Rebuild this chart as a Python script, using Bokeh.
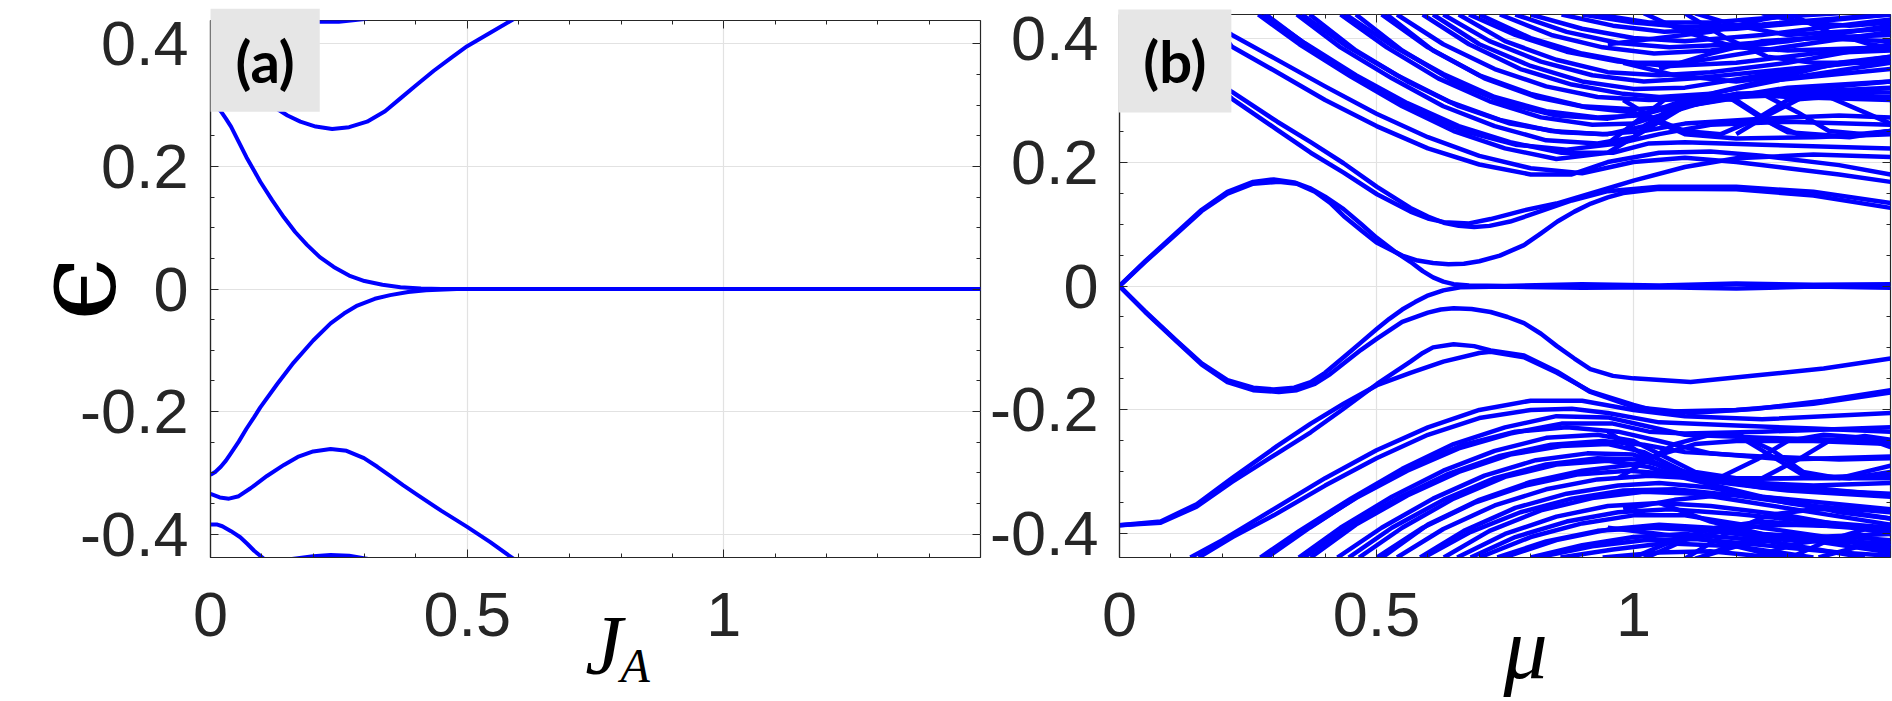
import math
from bokeh.plotting import figure
from bokeh.models import Range1d, FixedTicker, LinearAxis, Label, ColumnDataSource
from bokeh.layouts import row
from bokeh.embed import file_html
from bokeh.resources import INLINE

# ---------------- axes / ticks ----------------
X_RANGE = (0.0, 1.5)
Y_RANGE = (-0.438, 0.438)
X_TICKS = [0.0, 0.5, 1.0]
X_LABELS = ["0", "0.5", "1"]
X_MINOR = [0.1, 0.2, 0.3, 0.4, 0.6, 0.7, 0.8, 0.9, 1.1, 1.2, 1.3, 1.4]
Y_TICKS = [-0.4, -0.2, 0.0, 0.2, 0.4]
Y_LABELS = ["-0.4", "-0.2", "0", "0.2", "0.4"]
Y_MINOR = [-0.35, -0.3, -0.25, -0.15, -0.1, -0.05, 0.05, 0.1, 0.15, 0.25, 0.3, 0.35]

# ---------------- panel (a): energy vs J_A ----------------
a_zero_up = [(0, 0.303), (0.01, 0.299), (0.02, 0.29), (0.03, 0.278), (0.04, 0.265), (0.055, 0.24), (0.07, 0.215),
             (0.085, 0.193), (0.097, 0.175), (0.12, 0.145), (0.143, 0.117), (0.165, 0.093), (0.188, 0.072),
             (0.213, 0.052), (0.24, 0.036), (0.27, 0.022), (0.30, 0.013), (0.335, 0.007), (0.37, 0.003),
             (0.41, 0.001), (0.45, 0.0), (1.5, 0.0)]
a_zero_dn = [(0, -0.303), (0.01, -0.298), (0.02, -0.29), (0.03, -0.28), (0.039, -0.269), (0.055, -0.249),
             (0.07, -0.228), (0.085, -0.209), (0.097, -0.193), (0.13, -0.155), (0.162, -0.12), (0.2, -0.084),
             (0.234, -0.056), (0.26, -0.04), (0.286, -0.027), (0.32, -0.016), (0.35, -0.01), (0.385, -0.005),
             (0.42, -0.002), (0.48, 0.0), (1.5, 0.0)]
a_gap_up = [(0, 0.334), (0.018, 0.34), (0.036, 0.342), (0.055, 0.338), (0.078, 0.326), (0.1, 0.312), (0.12, 0.299),
            (0.15, 0.283), (0.175, 0.273), (0.205, 0.265), (0.237, 0.261), (0.27, 0.264), (0.305, 0.273),
            (0.34, 0.29), (0.37, 0.311), (0.4, 0.332), (0.435, 0.356), (0.47, 0.378), (0.50, 0.396),
            (0.545, 0.418), (0.59, 0.44)]
a_gap_dn = [(0, -0.334), (0.018, -0.34), (0.036, -0.342), (0.055, -0.338), (0.078, -0.325), (0.11, -0.305),
            (0.143, -0.287), (0.17, -0.274), (0.2, -0.265), (0.234, -0.261), (0.265, -0.264), (0.299, -0.276),
            (0.325, -0.29), (0.35, -0.305), (0.375, -0.32), (0.403, -0.336), (0.45, -0.362), (0.50, -0.388),
            (0.545, -0.413), (0.59, -0.44)]
a_top_up = [(0, 0.384), (0.023, 0.387), (0.058, 0.405), (0.104, 0.44)]
a_top_dn = [(0, -0.384), (0.012, -0.384), (0.023, -0.387), (0.04, -0.395), (0.058, -0.405), (0.072, -0.416),
            (0.085, -0.427), (0.104, -0.44)]
a_edge_up = [(0.16, 0.441), (0.2, 0.436), (0.25, 0.436), (0.305, 0.441)]
a_edge_dn = [(0.155, -0.441), (0.2, -0.436), (0.234, -0.434), (0.27, -0.435), (0.31, -0.441)]

# ---------------- panel (b): energy vs mu, upper half ----------------
b_u0 = [(0, 0), (0.05, 0.04), (0.112, 0.087), (0.16, 0.123), (0.21, 0.152), (0.26, 0.168), (0.30, 0.172),
        (0.34, 0.167), (0.37, 0.158), (0.40, 0.144), (0.436, 0.124), (0.47, 0.1), (0.50, 0.078), (0.535, 0.056),
        (0.566, 0.039), (0.59, 0.024), (0.61, 0.014), (0.63, 0.007), (0.65, 0.003), (0.68, 0.001), (0.75, 0.0),
        (0.9, 0.003), (1.05, 0.001), (1.2, 0.004), (1.35, 0.002), (1.5, 0.003)]
b_u1 = [(0, 0), (0.05, 0.039), (0.112, 0.085), (0.16, 0.121), (0.21, 0.149), (0.26, 0.165), (0.31, 0.168),
        (0.345, 0.165), (0.38, 0.152), (0.41, 0.134), (0.436, 0.113), (0.47, 0.09), (0.50, 0.07), (0.55, 0.049),
        (0.58, 0.041), (0.61, 0.037), (0.64, 0.035), (0.67, 0.036), (0.70, 0.04), (0.74, 0.049), (0.787, 0.066),
        (0.82, 0.085), (0.852, 0.104), (0.885, 0.12), (0.917, 0.133), (0.95, 0.143), (0.98, 0.15), (1.05, 0.157),
        (1.2, 0.156), (1.35, 0.146), (1.5, 0.126)]
b_v1 = [(0, 0.386), (0.08, 0.38), (0.15, 0.355), (0.219, 0.313), (0.307, 0.265), (0.372, 0.232), (0.436, 0.198),
        (0.501, 0.16), (0.566, 0.126), (0.6, 0.112), (0.631, 0.102), (0.66, 0.097), (0.69, 0.095), (0.72, 0.097),
        (0.76, 0.104), (0.80, 0.115), (0.88, 0.138), (0.95, 0.153), (1.05, 0.16), (1.2, 0.16), (1.35, 0.152),
        (1.5, 0.134)]
b_v2 = [(0, 0.386), (0.08, 0.378), (0.15, 0.35), (0.219, 0.302), (0.307, 0.252), (0.372, 0.215), (0.436, 0.183),
        (0.501, 0.148), (0.566, 0.12), (0.6, 0.109), (0.631, 0.103), (0.68, 0.101), (0.722, 0.108), (0.787, 0.122),
        (0.85, 0.133), (0.92, 0.15), (1.0, 0.17), (1.1, 0.192), (1.2, 0.206), (1.35, 0.212), (1.5, 0.208)]
b_d1 = [(0.15, 0.44), (0.219, 0.405), (0.3, 0.368), (0.4, 0.322), (0.5, 0.278), (0.6, 0.24), (0.7, 0.21),
        (0.8, 0.19), (0.9, 0.182), (1.0, 0.2), (1.1, 0.207), (1.2, 0.2), (1.3, 0.19), (1.4, 0.18), (1.5, 0.168)]
b_d2 = [(0.17, 0.44), (0.219, 0.386), (0.3, 0.348), (0.4, 0.30), (0.5, 0.258), (0.6, 0.222), (0.7, 0.196),
        (0.8, 0.18), (0.88, 0.18), (0.95, 0.2), (1.05, 0.215), (1.15, 0.217), (1.25, 0.21), (1.4, 0.195), (1.5, 0.18)]
b_d3 = [(0.27, 0.438), (0.35, 0.39), (0.45, 0.338), (0.55, 0.29), (0.65, 0.25), (0.75, 0.222), (0.85, 0.205),
        (0.95, 0.215), (1.0, 0.24), (1.06, 0.28), (1.11, 0.303), (1.18, 0.307), (1.25, 0.27), (1.3, 0.248),
        (1.4, 0.242), (1.5, 0.25)]
b_d3b = [(0.28, 0.438), (0.36, 0.392), (0.46, 0.34), (0.56, 0.295), (0.66, 0.258), (0.76, 0.232), (0.86, 0.215),
         (0.96, 0.215), (1.03, 0.23), (1.1, 0.232), (1.25, 0.228), (1.5, 0.222)]
b_d4 = [(0.285, 0.438), (0.37, 0.385), (0.47, 0.33), (0.57, 0.285), (0.67, 0.25), (0.77, 0.228), (0.87, 0.22),
        (0.97, 0.23), (1.05, 0.245), (1.15, 0.26), (1.3, 0.265), (1.5, 0.26)]
b_d5 = [(0.345, 0.438), (0.43, 0.385), (0.53, 0.335), (0.63, 0.29), (0.73, 0.258), (0.83, 0.235), (0.93, 0.23),
        (1.0, 0.24), (1.05, 0.265), (1.1, 0.29), (1.2, 0.305), (1.35, 0.31), (1.5, 0.305)]
b_d5b = [(0.355, 0.438), (0.44, 0.388), (0.54, 0.34), (0.64, 0.298), (0.74, 0.268), (0.84, 0.25), (0.94, 0.245),
         (1.02, 0.25), (1.1, 0.262), (1.25, 0.27), (1.4, 0.275), (1.5, 0.272)]
b_d6 = [(0.37, 0.438), (0.46, 0.38), (0.56, 0.33), (0.66, 0.29), (0.76, 0.262), (0.86, 0.248), (0.95, 0.245),
        (1.02, 0.258), (1.1, 0.295), (1.2, 0.31), (1.3, 0.305), (1.5, 0.3)]
b_d7 = [(0.43, 0.438), (0.52, 0.385), (0.62, 0.335), (0.72, 0.298), (0.82, 0.272), (0.92, 0.26), (1.0, 0.262),
        (1.05, 0.275), (1.15, 0.3), (1.3, 0.32), (1.5, 0.33)]
b_d7b = [(0.44, 0.438), (0.53, 0.388), (0.63, 0.342), (0.73, 0.305), (0.83, 0.282), (0.93, 0.272), (1.01, 0.275),
         (1.08, 0.29), (1.2, 0.31), (1.35, 0.315), (1.5, 0.312)]
b_d8 = [(0.46, 0.438), (0.55, 0.38), (0.65, 0.33), (0.75, 0.295), (0.85, 0.275), (0.95, 0.27), (1.03, 0.28),
        (1.1, 0.3), (1.25, 0.33), (1.5, 0.35)]
b_d9 = [(0.51, 0.438), (0.6, 0.385), (0.7, 0.34), (0.8, 0.31), (0.9, 0.29), (1.0, 0.285), (1.1, 0.29),
        (1.25, 0.31), (1.5, 0.32)]
b_d9b = [(0.54, 0.438), (0.63, 0.39), (0.73, 0.35), (0.83, 0.322), (0.93, 0.305), (1.03, 0.3), (1.12, 0.302),
         (1.3, 0.315), (1.5, 0.33)]
b_d10 = [(0.52, 0.438), (0.61, 0.38), (0.71, 0.335), (0.81, 0.305), (0.91, 0.288), (1.0, 0.28), (1.06, 0.26),
         (1.1, 0.245), (1.2, 0.238), (1.35, 0.24), (1.5, 0.245)]
b_d11 = [(0.59, 0.438), (0.68, 0.39), (0.78, 0.35), (0.88, 0.325), (0.98, 0.31), (1.05, 0.305), (1.15, 0.31),
         (1.3, 0.335), (1.5, 0.36)]
b_d11b = [(0.63, 0.438), (0.72, 0.395), (0.82, 0.362), (0.92, 0.34), (1.02, 0.33), (1.12, 0.335), (1.3, 0.35),
          (1.5, 0.365)]
b_d12 = [(0.61, 0.438), (0.7, 0.39), (0.8, 0.355), (0.9, 0.33), (1.0, 0.318), (1.1, 0.32), (1.25, 0.34), (1.5, 0.37)]
b_d13 = [(0.66, 0.438), (0.75, 0.395), (0.85, 0.365), (0.95, 0.345), (1.05, 0.34), (1.15, 0.345), (1.3, 0.36),
         (1.5, 0.39)]
b_d13b = [(0.68, 0.438), (0.77, 0.405), (0.87, 0.378), (0.97, 0.362), (1.07, 0.355), (1.2, 0.36), (1.35, 0.375),
          (1.5, 0.38)]
b_d14 = [(0.70, 0.438), (0.8, 0.4), (0.9, 0.375), (1.0, 0.36), (1.1, 0.36), (1.25, 0.38), (1.5, 0.41)]
b_d15 = [(0.74, 0.438), (0.84, 0.405), (0.94, 0.385), (1.04, 0.375), (1.15, 0.38), (1.3, 0.395), (1.5, 0.42)]
b_d15b = [(0.77, 0.438), (0.87, 0.41), (0.97, 0.392), (1.07, 0.385), (1.2, 0.39), (1.35, 0.4), (1.5, 0.405)]
b_d16 = [(0.80, 0.438), (0.9, 0.415), (1.0, 0.4), (1.1, 0.395), (1.25, 0.405), (1.5, 0.43)]
b_d17 = [(0.86, 0.438), (0.96, 0.42), (1.06, 0.41), (1.2, 0.415), (1.5, 0.438)]
b_d17b = [(0.9, 0.438), (1.0, 0.425), (1.1, 0.418), (1.25, 0.422), (1.4, 0.432), (1.5, 0.438)]
b_d18 = [(0.93, 0.438), (1.03, 0.425), (1.15, 0.425), (1.3, 0.435), (1.4, 0.44)]
b_z1 = [(0.95, 0.23), (1.0, 0.262), (1.06, 0.30), (1.12, 0.305), (1.2, 0.30), (1.27, 0.262), (1.32, 0.245),
        (1.42, 0.24), (1.5, 0.25)]
b_z2 = [(0.98, 0.30), (1.04, 0.27), (1.1, 0.25), (1.17, 0.245), (1.24, 0.27), (1.3, 0.30), (1.38, 0.305),
        (1.45, 0.28), (1.5, 0.262)]
b_z3 = [(1.2, 0.245), (1.26, 0.275), (1.33, 0.305), (1.42, 0.31), (1.5, 0.3)]
b_z4 = [(1.25, 0.31), (1.32, 0.28), (1.38, 0.25), (1.45, 0.245), (1.5, 0.25)]
b_x1 = [(1.02, 0.44), (1.1, 0.41), (1.2, 0.385), (1.3, 0.38), (1.5, 0.385)]
b_x2 = [(1.12, 0.44), (1.2, 0.42), (1.3, 0.405), (1.4, 0.41), (1.5, 0.415)]
b_x3 = [(1.25, 0.44), (1.33, 0.425), (1.42, 0.42), (1.5, 0.425)]
b_x4 = [(0.98, 0.36), (1.08, 0.34), (1.2, 0.33), (1.3, 0.34), (1.4, 0.36), (1.5, 0.37)]
b_x5 = [(1.05, 0.35), (1.15, 0.375), (1.25, 0.395), (1.35, 0.4), (1.5, 0.395)]
b_x6 = [(1.1, 0.44), (1.18, 0.4), (1.26, 0.37), (1.35, 0.36), (1.5, 0.36)]
b_x7 = [(1.3, 0.44), (1.38, 0.41), (1.46, 0.39), (1.5, 0.385)]
b_x8 = [(0.95, 0.39), (1.05, 0.4), (1.15, 0.41), (1.25, 0.43), (1.32, 0.44)]

# ---------------- panel (b): lower half ----------------
b_l0 = [(0, 0), (0.05, -0.041), (0.112, -0.089), (0.16, -0.125), (0.21, -0.152), (0.26, -0.164), (0.30, -0.167),
        (0.34, -0.164), (0.372, -0.155), (0.40, -0.14), (0.436, -0.115), (0.47, -0.091), (0.501, -0.069),
        (0.525, -0.053), (0.55, -0.038), (0.575, -0.026), (0.598, -0.016), (0.63, -0.007), (0.663, -0.002),
        (0.75, -0.001), (0.9, -0.003), (1.05, -0.002), (1.2, -0.004), (1.35, -0.001), (1.5, -0.003)]
b_l1 = [(0, 0), (0.05, -0.042), (0.112, -0.09), (0.16, -0.127), (0.21, -0.155), (0.26, -0.168), (0.31, -0.171),
        (0.345, -0.168), (0.38, -0.158), (0.41, -0.142), (0.436, -0.125), (0.47, -0.103), (0.501, -0.085),
        (0.55, -0.058), (0.6, -0.043), (0.625, -0.038), (0.65, -0.036), (0.685, -0.037), (0.722, -0.042),
        (0.755, -0.05), (0.787, -0.06), (0.82, -0.077), (0.851, -0.097), (0.885, -0.117), (0.916, -0.134),
        (0.96, -0.145), (1.0, -0.149), (1.111, -0.155), (1.241, -0.144), (1.37, -0.133), (1.5, -0.117)]
b_la1 = [(0, -0.386), (0.08, -0.382), (0.15, -0.356), (0.219, -0.316), (0.307, -0.27), (0.372, -0.236),
         (0.436, -0.198), (0.501, -0.158), (0.566, -0.122), (0.59, -0.108), (0.61, -0.099), (0.65, -0.094),
         (0.69, -0.097), (0.722, -0.104), (0.787, -0.112), (0.851, -0.138), (0.916, -0.171), (1.0, -0.195),
         (1.111, -0.205), (1.241, -0.198), (1.37, -0.185), (1.5, -0.168)]
b_la2 = [(0, -0.386), (0.08, -0.38), (0.15, -0.352), (0.219, -0.31), (0.307, -0.258), (0.372, -0.222),
         (0.436, -0.19), (0.501, -0.16), (0.566, -0.14), (0.63, -0.122), (0.7, -0.108), (0.722, -0.106),
         (0.787, -0.115), (0.851, -0.14), (0.916, -0.17), (1.0, -0.192), (1.05, -0.203), (1.2, -0.2),
         (1.35, -0.19), (1.5, -0.172)]
b_a1 = [(0.138, -0.438), (0.2, -0.41), (0.3, -0.36), (0.4, -0.31), (0.5, -0.265), (0.6, -0.228), (0.7, -0.2),
        (0.8, -0.185), (0.9, -0.185), (1.0, -0.2), (1.1, -0.21), (1.25, -0.215), (1.5, -0.205)]
b_a2 = [(0.154, -0.438), (0.22, -0.405), (0.3, -0.37), (0.4, -0.322), (0.5, -0.278), (0.6, -0.24), (0.7, -0.213),
        (0.8, -0.2), (0.88, -0.198), (0.95, -0.205), (1.05, -0.22), (1.2, -0.225), (1.35, -0.23), (1.5, -0.235)]
b_a3 = [(0.274, -0.438), (0.35, -0.395), (0.45, -0.343), (0.55, -0.295), (0.65, -0.255), (0.75, -0.228),
        (0.85, -0.21), (0.95, -0.212), (1.02, -0.225), (1.1, -0.24), (1.25, -0.245), (1.5, -0.25)]
b_a3b = [(0.28, -0.438), (0.36, -0.394), (0.46, -0.342), (0.56, -0.298), (0.66, -0.262), (0.76, -0.238),
         (0.86, -0.222), (0.96, -0.222), (1.03, -0.235), (1.1, -0.238), (1.25, -0.235), (1.5, -0.228)]
b_a4 = [(0.287, -0.438), (0.37, -0.39), (0.47, -0.336), (0.57, -0.29), (0.67, -0.256), (0.77, -0.235),
        (0.87, -0.228), (0.97, -0.235), (1.05, -0.25), (1.15, -0.27), (1.3, -0.28), (1.5, -0.275)]
b_a5 = [(0.349, -0.438), (0.43, -0.39), (0.53, -0.34), (0.63, -0.298), (0.73, -0.266), (0.83, -0.245),
        (0.93, -0.24), (1.0, -0.25), (1.06, -0.275), (1.12, -0.3), (1.2, -0.31), (1.35, -0.31), (1.5, -0.31)]
b_a5b = [(0.359, -0.438), (0.44, -0.39), (0.54, -0.343), (0.64, -0.303), (0.74, -0.274), (0.84, -0.256),
         (0.94, -0.25), (1.02, -0.256), (1.1, -0.268), (1.25, -0.275), (1.4, -0.28), (1.5, -0.278)]
b_a6 = [(0.372, -0.438), (0.46, -0.385), (0.56, -0.338), (0.66, -0.3), (0.76, -0.272), (0.86, -0.258),
        (0.95, -0.255), (1.02, -0.268), (1.1, -0.3), (1.2, -0.312), (1.3, -0.31), (1.5, -0.305)]
b_a7 = [(0.424, -0.438), (0.51, -0.39), (0.61, -0.343), (0.71, -0.306), (0.81, -0.281), (0.91, -0.27),
        (1.0, -0.272), (1.06, -0.29), (1.15, -0.315), (1.3, -0.33), (1.5, -0.34)]
b_a7b = [(0.446, -0.438), (0.53, -0.39), (0.63, -0.345), (0.73, -0.31), (0.83, -0.288), (0.93, -0.278),
         (1.01, -0.28), (1.08, -0.296), (1.2, -0.316), (1.35, -0.322), (1.5, -0.318)]
b_a8 = [(0.466, -0.438), (0.55, -0.39), (0.65, -0.343), (0.75, -0.308), (0.85, -0.288), (0.95, -0.282),
        (1.03, -0.292), (1.1, -0.31), (1.25, -0.34), (1.5, -0.36)]
b_a9 = [(0.501, -0.438), (0.59, -0.39), (0.69, -0.35), (0.79, -0.322), (0.89, -0.304), (0.99, -0.298),
        (1.1, -0.305), (1.25, -0.325), (1.5, -0.335)]
b_a9b = [(0.54, -0.438), (0.63, -0.392), (0.73, -0.354), (0.83, -0.328), (0.93, -0.312), (1.03, -0.306),
         (1.12, -0.31), (1.3, -0.322), (1.5, -0.338)]
b_a10 = [(0.511, -0.438), (0.6, -0.385), (0.7, -0.345), (0.8, -0.316), (0.9, -0.298), (1.0, -0.288),
         (1.06, -0.27), (1.12, -0.255), (1.2, -0.25), (1.35, -0.25), (1.5, -0.255)]
b_a11 = [(0.585, -0.438), (0.67, -0.395), (0.77, -0.358), (0.87, -0.335), (0.97, -0.322), (1.05, -0.318),
         (1.15, -0.325), (1.3, -0.35), (1.5, -0.375)]
b_a11b = [(0.592, -0.438), (0.68, -0.398), (0.78, -0.365), (0.88, -0.343), (0.98, -0.33), (1.08, -0.328),
          (1.2, -0.338), (1.35, -0.355), (1.5, -0.365)]
b_a12 = [(0.631, -0.438), (0.72, -0.395), (0.82, -0.362), (0.92, -0.342), (1.02, -0.332), (1.12, -0.335),
         (1.25, -0.352), (1.5, -0.385)]
b_a13 = [(0.657, -0.438), (0.75, -0.4), (0.85, -0.372), (0.95, -0.355), (1.05, -0.35), (1.15, -0.355),
         (1.3, -0.37), (1.5, -0.4)]
b_a13b = [(0.683, -0.438), (0.77, -0.405), (0.87, -0.38), (0.97, -0.365), (1.07, -0.36), (1.2, -0.368),
          (1.35, -0.38), (1.5, -0.39)]
b_a14 = [(0.70, -0.438), (0.8, -0.405), (0.9, -0.383), (1.0, -0.37), (1.1, -0.37), (1.25, -0.39), (1.5, -0.42)]
b_a15 = [(0.748, -0.438), (0.85, -0.41), (0.95, -0.393), (1.05, -0.385), (1.15, -0.39), (1.3, -0.405), (1.5, -0.43)]
b_a15b = [(0.735, -0.438), (0.83, -0.412), (0.93, -0.395), (1.03, -0.39), (1.15, -0.395), (1.3, -0.41),
          (1.5, -0.415)]
b_a16 = [(0.80, -0.438), (0.9, -0.418), (1.0, -0.405), (1.1, -0.4), (1.25, -0.41), (1.45, -0.438)]
b_a17 = [(0.858, -0.438), (0.96, -0.425), (1.06, -0.415), (1.2, -0.42), (1.35, -0.438)]
b_a17b = [(0.813, -0.438), (0.92, -0.42), (1.02, -0.41), (1.12, -0.408), (1.25, -0.418), (1.4, -0.43), (1.5, -0.435)]
b_a18 = [(0.94, -0.438), (1.05, -0.43), (1.15, -0.428), (1.3, -0.44)]
b_a19 = [(1.0, -0.438), (1.08, -0.41), (1.16, -0.39), (1.25, -0.38), (1.35, -0.385), (1.5, -0.395)]
b_a20 = [(1.13, -0.438), (1.2, -0.415), (1.3, -0.4), (1.4, -0.41), (1.5, -0.425)]
b_a21 = [(1.23, -0.438), (1.32, -0.415), (1.42, -0.405), (1.5, -0.41)]
b_a22 = [(1.36, -0.438), (1.44, -0.42), (1.5, -0.415)]
b_zl1 = [(0.95, -0.235), (1.0, -0.262), (1.05, -0.29), (1.1, -0.305), (1.17, -0.308), (1.24, -0.28),
         (1.3, -0.25), (1.37, -0.24), (1.45, -0.245), (1.5, -0.26)]
b_zl2 = [(0.97, -0.31), (1.02, -0.285), (1.08, -0.255), (1.15, -0.24), (1.2, -0.238), (1.27, -0.265),
         (1.33, -0.3), (1.4, -0.31), (1.5, -0.29)]
b_zl3 = [(1.2, -0.24), (1.26, -0.27), (1.33, -0.305), (1.42, -0.31), (1.5, -0.3)]
b_zl4 = [(1.25, -0.31), (1.32, -0.28), (1.38, -0.25), (1.45, -0.242), (1.5, -0.248)]
b_lx1 = [(1.02, -0.44), (1.1, -0.41), (1.2, -0.39), (1.3, -0.385), (1.5, -0.39)]
b_lx2 = [(1.12, -0.44), (1.2, -0.42), (1.3, -0.405), (1.4, -0.41), (1.5, -0.42)]
b_lx3 = [(0.98, -0.36), (1.08, -0.345), (1.2, -0.335), (1.3, -0.345), (1.4, -0.365), (1.5, -0.375)]
b_lx4 = [(1.05, -0.35), (1.15, -0.38), (1.25, -0.4), (1.35, -0.405), (1.5, -0.4)]
b_lx5 = [(1.1, -0.44), (1.18, -0.4), (1.26, -0.37), (1.35, -0.36), (1.5, -0.36)]
b_lx6 = [(1.3, -0.44), (1.38, -0.41), (1.46, -0.39), (1.5, -0.385)]
b_lx7 = [(0.95, -0.39), (1.05, -0.4), (1.15, -0.41), (1.25, -0.43), (1.32, -0.44)]

CURVES_A = [a_zero_up, a_zero_dn, a_gap_up, a_gap_dn, a_top_up, a_top_dn, a_edge_up, a_edge_dn]
CURVES_B = [b_u0, b_u1, b_v1, b_v2, b_d1, b_d2, b_d3, b_d3b, b_d4, b_d5, b_d5b, b_d6, b_d7, b_d7b, b_d8, b_d9,
            b_d9b, b_d10, b_d11, b_d11b, b_d12, b_d13, b_d13b, b_d14, b_d15, b_d15b, b_d16, b_d17, b_d17b, b_d18,
            b_z1, b_z2, b_z3, b_z4, b_x1, b_x2, b_x3, b_x4, b_x5, b_x6, b_x7, b_x8,
            b_l0, b_l1, b_la1, b_la2, b_a1, b_a2, b_a3, b_a3b, b_a4, b_a5, b_a5b, b_a6, b_a7, b_a7b, b_a8, b_a9,
            b_a9b, b_a10, b_a11, b_a11b, b_a12, b_a13, b_a13b, b_a14, b_a15, b_a15b, b_a16, b_a17, b_a17b, b_a18,
            b_a19, b_a20, b_a21, b_a22, b_zl1, b_zl2, b_zl3, b_zl4, b_lx1, b_lx2, b_lx3, b_lx4, b_lx5, b_lx6, b_lx7]

BLUE = "#0000ff"
AXC = "#262626"
GRIDC = "#e2e2e2"
TICK_FONT = "Liberation Sans"
TOP_SPARE = 600   # room above each frame that holds the free-standing labels (shifted off-page)


def style(p, y_standoff, ylabel=None):
    p.xaxis.ticker = FixedTicker(ticks=X_TICKS, minor_ticks=X_MINOR)
    p.yaxis.ticker = FixedTicker(ticks=Y_TICKS, minor_ticks=Y_MINOR)
    p.xgrid.ticker = FixedTicker(ticks=X_TICKS)
    p.ygrid.ticker = FixedTicker(ticks=Y_TICKS)
    p.xaxis.major_label_overrides = {t: l for t, l in zip(X_TICKS, X_LABELS)}
    p.yaxis.major_label_overrides = {t: l for t, l in zip(Y_TICKS, Y_LABELS)}
    for ax in (p.xaxis, p.yaxis):
        ax.major_label_text_font = TICK_FONT
        ax.major_label_text_font_size = "63px"
        ax.major_label_text_color = AXC
        ax.axis_line_color = AXC
        ax.axis_line_width = 1.2
        ax.major_tick_in = 8
        ax.major_tick_out = 0
        ax.minor_tick_in = 4
        ax.minor_tick_out = 0
        ax.major_tick_line_color = AXC
        ax.minor_tick_line_color = AXC
    p.xaxis.major_label_standoff = 35
    p.yaxis.major_label_standoff = y_standoff
    if ylabel is not None:
        p.yaxis.axis_label = ylabel
        p.yaxis.axis_label_text_font = "DejaVu Serif"
        p.yaxis.axis_label_text_font_style = "normal"
        p.yaxis.axis_label_text_font_size = "115px"
        p.yaxis.axis_label_text_color = "black"
        p.yaxis.axis_label_standoff = -64
    p.grid.grid_line_color = GRIDC
    p.grid.grid_line_width = 1.2
    p.outline_line_color = AXC
    p.outline_line_width = 1.2
    # box-style ticks on the top and right edges
    for loc, ticks, minor in (("above", X_TICKS, X_MINOR), ("right", Y_TICKS, Y_MINOR)):
        ax = LinearAxis(ticker=FixedTicker(ticks=ticks, minor_ticks=minor),
                        major_label_overrides={t: "" for t in ticks},
                        major_label_text_font_size="1px", major_label_standoff=0,
                        major_tick_in=8, major_tick_out=0, minor_tick_in=4, minor_tick_out=0,
                        axis_line_color=None, major_tick_line_color=AXC, minor_tick_line_color=AXC)
        p.add_layout(ax, loc)


def add_curves(p, curves, lw):
    src = ColumnDataSource(dict(xs=[[q[0] for q in c] for c in curves],
                                ys=[[q[1] for q in c] for c in curves]))
    p.multi_line("xs", "ys", source=src, line_color=BLUE, line_width=lw, line_join="round")


def free_label(p, **kw):
    # placed in the (oversized) top panel so it is not clipped to the data frame;
    # it is still positioned in data coordinates
    p.add_layout(Label(text_color="black", **kw), "above")


def panel_label(p, x, y, txt):
    free_label(p, x=x, y=y, text=txt, text_font="Lato", text_font_style="bold", text_font_size="58px",
               text_align="center", text_baseline="middle", background_fill_color="#e6e6e6",
               padding=dict(left=25, right=25, top=17, bottom=17))


pa = figure(width=985, height=TOP_SPARE + 542 + 139, x_range=Range1d(*X_RANGE), y_range=Range1d(*Y_RANGE),
            min_border_left=210, min_border_right=5, min_border_top=TOP_SPARE, min_border_bottom=139,
            output_backend="svg", toolbar_location=None, margin=(-(TOP_SPARE - 20), 0, 0, 0))
style(pa, 22, "\u03f5")
add_curves(pa, CURVES_A, 4)
panel_label(pa, 0.1065, 0.3733, "(a)")
free_label(pa, x=0.73, y=-0.657, text="J", text_font="Liberation Serif", text_font_style="italic",
           text_font_size="84px", text_align="left", text_baseline="bottom")
free_label(pa, x=0.7986, y=-0.657, text="A", text_font="Liberation Serif", text_font_style="italic",
           text_font_size="48px", text_align="left", text_baseline="bottom")

pb = figure(width=907, height=TOP_SPARE + 543 + 144, x_range=Range1d(*X_RANGE), y_range=Range1d(*Y_RANGE),
            min_border_left=134, min_border_right=2, min_border_top=TOP_SPARE, min_border_bottom=144,
            output_backend="svg", toolbar_location=None, margin=(-(TOP_SPARE - 14), 0, 0, 0))
style(pb, 21)
add_curves(pb, CURVES_B, 4.5)
panel_label(pb, 0.1076, 0.363, "(b)")
free_label(pb, x=0.747, y=-0.663, text="\u03bc", text_font="Liberation Serif", text_font_style="italic",
           text_font_size="88px", text_align="left", text_baseline="bottom")

layout = row(pa, pb)
open("out.html", "w", encoding="utf-8").write(file_html(layout, INLINE))
